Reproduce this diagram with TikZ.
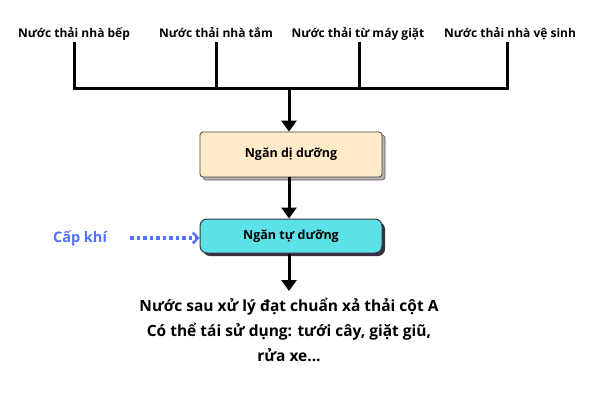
\documentclass[tikz,border=0pt]{standalone}
\usepackage{fontspec}
\setmainfont{Open Sans}
\usetikzlibrary{arrows.meta}
\definecolor{peach}{HTML}{FFEBC8}
\definecolor{cyanbox}{HTML}{5CE1E6}
\definecolor{airblue}{HTML}{5271FF}
\definecolor{darkedge}{HTML}{3B3040}
\tikzset{
  src/.style={font=\bfseries\fontsize{12}{14}\selectfont, inner sep=0pt, anchor=base},
  pipe/.style={line width=3pt},
  flow/.style={line width=3pt, -{Triangle[width=15pt,length=11pt]}},
  stagebox/.style={minimum width=182pt, draw=black!75, line width=0.8pt, font=\bfseries\fontsize{12.5}{14}\selectfont},
}
\begin{document}
\begin{tikzpicture}[x=1pt,y=-1pt]
\useasboundingbox (0,0) rectangle (600,400);
% source labels
\node[src] (s1) at (74,37) {Nước thải nhà bếp};
\node[src] (s2) at (216,37) {Nước thải nhà tắm};
\node[src] (s3) at (358,37) {Nước thải từ máy giặt};
\node[src] (s4) at (510,37) {Nước thải nhà vệ sinh};
\coordinate (j1) at (74,88);
\coordinate (j4) at (507,88);
\coordinate (jm) at (289,88);
\draw[pipe] (74,42) -- (j1) -- (j4) -- (507,42);
\draw[pipe] (216,42) -- (216,88);
\draw[pipe] (359,42) -- (359,88);
% boxes
\filldraw[fill=black!30, draw=black!65, line width=0.6pt, rounded corners=3pt] (203,135) rectangle (385,180);
\node[stagebox, fill=peach, rounded corners=3pt, minimum height=45pt] (b1) at (291,154.5) {Ngăn dị dưỡng};
\fill[darkedge, rounded corners=7pt] (203,222) rectangle (385,256);
\node[stagebox, fill=cyanbox, rounded corners=7pt, minimum height=34pt, draw=darkedge, line width=1pt] (b2) at (291,236) {Ngăn tự dưỡng};
\draw[flow] ([yshift=-1.5pt]jm) -- (b1.north -| jm);
\draw[flow] (b1.south -| jm) -- (b2.north -| jm);
% air supply
\node[font=\bfseries\fontsize{14.5}{16}\selectfont, text=airblue] (air) at (80,238) {Cấp khí};
\draw[airblue, line width=3.5pt, dash pattern=on 3.5pt off 3pt, -{Straight Barb[length=5pt,width=11pt,line width=2.5pt]}] (130,238) -- (b2.west |- 0,238);
% output
\coordinate (o) at (289,291);
\draw[flow] (b2.south -| o) -- (o);
\node[font=\fontsize{15.5}{25}\selectfont\bfseries, align=center, anchor=north] (out) at (289,294) {Nước sau xử lý đạt chuẩn xả thải cột A\\Có thể tái sử dụng: tưới cây, giặt giũ,\\rửa xe...};
\end{tikzpicture}
\end{document}
